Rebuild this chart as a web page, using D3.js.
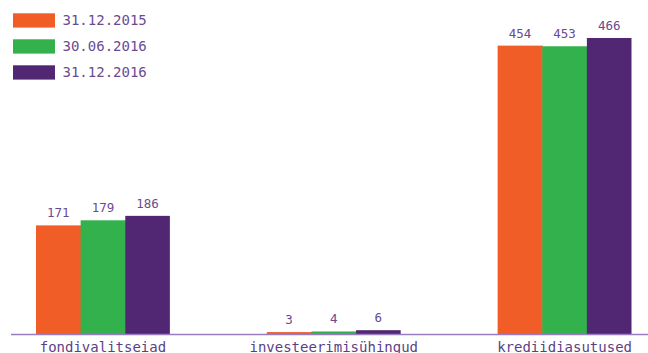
<!DOCTYPE html>
<html><head><meta charset="utf-8">
<script src="https://cdn.jsdelivr.net/npm/d3@7/dist/d3.min.js"></script>
<style>body{margin:0;background:#fff}svg{display:block}</style>
</head><body>
<svg id="c" width="648" height="353"></svg>
<script>
const categories = ["fondivalitseiad", "investeerimisühingud", "krediidiasutused"];
const seriesNames = ["31.12.2015", "30.06.2016", "31.12.2016"];
const seriesColors = ["#f15d27", "#33b14c", "#512773"];
const v20151231 = [171, 3, 454];
const v20160630 = [179, 4, 453];
const v20161231 = [186, 6, 466];
const seriesValues = [v20151231, v20160630, v20161231];

const svg = d3.select("#c");
const font = "'DejaVu Sans Mono', 'Liberation Mono', monospace";
const textColor = "#6a4b93";

const x0 = d3.scaleBand().domain(categories).range([36, 631.5]).paddingInner(0.42).paddingOuter(0);
const x1 = d3.scaleBand().domain(seriesNames).range([0, x0.bandwidth()]);
const y = d3.scaleLinear().domain([0, 466]).range([334, 38]);

const data = [];
categories.forEach((c, ci) => seriesNames.forEach((s, si) => data.push({c, s, si, v: seriesValues[si][ci]})));

svg.selectAll("rect.bar").data(data).join("rect").attr("class", "bar")
  .attr("x", d => x0(d.c) + x1(d.s))
  .attr("width", d => x1.bandwidth() + (d.si < 2 ? 0.6 : 0))
  .attr("y", d => y(d.v))
  .attr("height", d => y(0) - y(d.v))
  .attr("fill", d => seriesColors[d.si]);

svg.selectAll("text.val").data(data).join("text").attr("class", "val")
  .attr("x", d => x0(d.c) + x1(d.s) + x1.bandwidth() / 2)
  .attr("y", d => y(d.v) - 8)
  .attr("text-anchor", "middle")
  .attr("font-family", font).attr("font-size", 12.5)
  .attr("fill", textColor)
  .text(d => d.v);

// axis baseline
const xAxis = d3.axisBottom(x0).tickSize(0).tickPadding(8);
const ax = svg.append("g").attr("transform", `translate(0,${y(0)})`).call(xAxis);
ax.select(".domain").attr("d", "M11,0.5H648").attr("stroke", "#9a7cc0").attr("stroke-width", 1.5);
ax.selectAll("text").attr("font-family", font).attr("font-size", 14).attr("fill", "#5b3f86").attr("dy", "0.71em");

// legend
const lg = svg.append("g");
seriesNames.forEach((s, i) => {
  const g = lg.append("g").attr("transform", `translate(13,${13.3 + i * 26})`);
  g.append("rect").attr("width", 42).attr("height", 14.3).attr("fill", seriesColors[i]);
  g.append("text").attr("x", 49.5).attr("y", 12).attr("font-family", font).attr("font-size", 14)
    .attr("fill", textColor).text(s);
});
</script>
</body></html>
